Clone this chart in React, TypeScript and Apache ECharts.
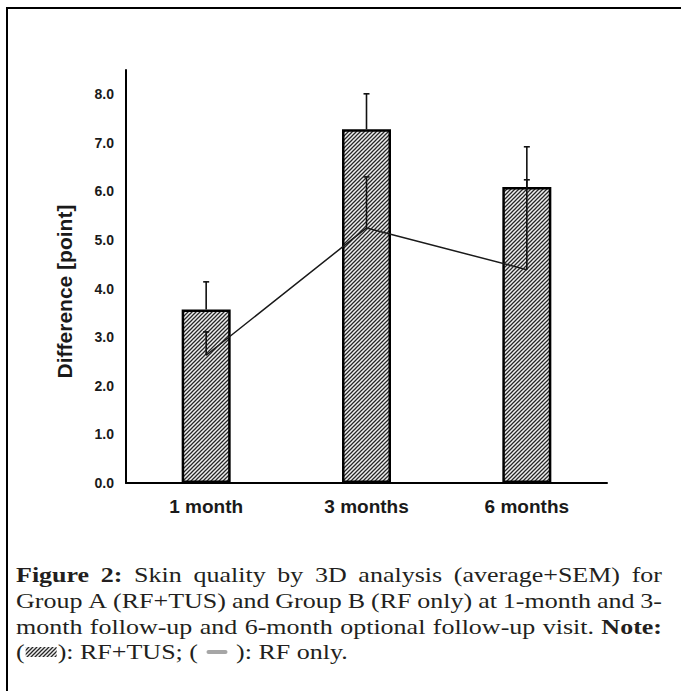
import React, { useEffect, useRef } from 'react';
import * as echarts from 'echarts';

// ---------- data ----------
const categories = ['1 month', '3 months', '6 months'];
const rfTusMean = [3.57, 7.28, 6.09];
const rfTusSem = [0.57, 0.73, 0.83];
const rfOnlyMean = [2.63, 5.25, 4.39];
const rfOnlySem = [0.48, 1.05, 1.85];
const yAxisName = 'Difference [point]';

type Word = { t: string; b?: boolean };
const captionLine1: Word[] = [
  { t: 'Figure', b: true }, { t: '2:', b: true }, { t: 'Skin' }, { t: 'quality' }, { t: 'by' },
  { t: '3D' }, { t: 'analysis' }, { t: '(average+SEM)' }, { t: 'for' },
];
const captionLine2: Word[] = [
  { t: 'Group' }, { t: 'A' }, { t: '(RF+TUS)' }, { t: 'and' }, { t: 'Group' }, { t: 'B' },
  { t: '(RF' }, { t: 'only)' }, { t: 'at' }, { t: '1-month' }, { t: 'and' }, { t: '3-' },
];
const captionLine3: Word[] = [
  { t: 'month' }, { t: 'follow-up' }, { t: 'and' }, { t: '6-month' }, { t: 'optional' },
  { t: 'follow-up' }, { t: 'visit.' }, { t: 'Note:', b: true },
];
const legendTexts = ['(', '): RF+TUS; ( ', ' ): RF only.'];

// ---------- helpers ----------
function makeHatch(): string {
  const s = 4;
  const c = document.createElement('canvas');
  c.width = s;
  c.height = s;
  const ctx = c.getContext('2d')!;
  ctx.fillStyle = '#efefef';
  ctx.fillRect(0, 0, s, s);
  ctx.strokeStyle = '#262626';
  ctx.lineWidth = 1.25;
  ctx.beginPath();
  ctx.moveTo(-1, s + 1);
  ctx.lineTo(s + 1, -1);
  ctx.moveTo(-1, 1);
  ctx.lineTo(1, -1);
  ctx.moveTo(s - 1, s + 1);
  ctx.lineTo(s + 1, s - 1);
  ctx.stroke();
  return c.toDataURL();
}

const CAP_FONT_SIZE = 20;
const CAP_SCALE_X = 1.3;
const CAP_FAMILY = '"Liberation Serif", "Times New Roman", serif';
const CAP_COLOR = '#231f20';

export default function App() {
  const ref = useRef<HTMLDivElement>(null);

  useEffect(() => {
    if (!ref.current) return;
    const chart = echarts.init(ref.current, undefined, { renderer: 'svg' });

    const hatchUrl = makeHatch();
    const hatch: any = { image: hatchUrl, repeat: 'repeat', imageWidth: 4, imageHeight: 4 };

    const mctx = document.createElement('canvas').getContext('2d')!;
    const fontOf = (b?: boolean) => `${b ? 'bold ' : ''}${CAP_FONT_SIZE}px ${CAP_FAMILY}`;
    const measure = (t: string, b?: boolean) => {
      mctx.font = fontOf(b);
      return mctx.measureText(t).width * CAP_SCALE_X;
    };

    const left = 16;
    const right = 662;
    const baselines = [582, 608, 634, 659];
    const centralOffset = 0.3375 * CAP_FONT_SIZE;

    const textEl = (t: string, x: number, baseline: number, b?: boolean) => ({
      type: 'text',
      x,
      y: baseline - centralOffset,
      scaleX: CAP_SCALE_X,
      silent: true,
      style: {
        text: t,
        x: 0,
        y: 0,
        font: fontOf(b),
        fill: CAP_COLOR,
        verticalAlign: 'middle',
        align: 'left',
      },
    });

    const captionEls: any[] = [];
    [captionLine1, captionLine2, captionLine3].forEach((line, li) => {
      const widths = line.map((w) => measure(w.t, w.b));
      const total = widths.reduce((a, b) => a + b, 0);
      const gap = (right - left - total) / (line.length - 1);
      let x = left;
      line.forEach((w, i) => {
        captionEls.push(textEl(w.t, x, baselines[li], w.b));
        x += widths[i] + gap;
      });
    });
    // legend line
    {
      const bl = baselines[3];
      let x = left;
      captionEls.push(textEl(legendTexts[0], x, bl));
      x += measure(legendTexts[0]) + 1;
      captionEls.push({
        type: 'rect',
        silent: true,
        shape: { x, y: bl - 12, width: 31, height: 10 },
        style: { fill: hatch },
      });
      x += 32;
      captionEls.push(textEl(legendTexts[1], x, bl));
      x += measure(legendTexts[1]) + 2;
      captionEls.push({
        type: 'rect',
        silent: true,
        shape: { x, y: bl - 9, width: 21, height: 4, r: 2 },
        style: { fill: '#a6a6a6' },
      });
      x += 23;
      captionEls.push(textEl(legendTexts[2], x, bl));
    }

    const errorRender = (capHalf: number, width: number) => (params: any, api: any) => {
      const i = api.value(0);
      const m = api.value(1);
      const u = api.value(2);
      const p0 = api.coord([i, m]);
      const p1 = api.coord([i, u]);
      const st = { stroke: '#111', lineWidth: width };
      return {
        type: 'group',
        children: [
          { type: 'line', shape: { x1: p0[0], y1: p0[1], x2: p1[0], y2: p1[1] }, style: st },
          { type: 'line', shape: { x1: p1[0] - capHalf, y1: p1[1], x2: p1[0] + capHalf, y2: p1[1] }, style: st },
        ],
      };
    };

    const option: any = {
      animation: false,
      backgroundColor: '#fff',
      grid: { left: 126, right: 74, top: 70, bottom: 208, containLabel: false, outerBoundsMode: 'none' },
      xAxis: {
        type: 'category',
        data: categories,
        axisTick: { show: false },
        axisLine: { lineStyle: { color: '#000', width: 2 } },
        axisLabel: {
          color: '#1a1a1a',
          fontFamily: '"Liberation Sans", Arial, sans-serif',
          fontWeight: 'bold',
          fontSize: 19,
          margin: 14,
        },
      },
      yAxis: {
        type: 'value',
        min: 0,
        max: 8.5,
        interval: 1,
        name: yAxisName,
        nameLocation: 'middle',
        nameGap: 51,
        nameRotate: 90,
        nameTextStyle: {
          color: '#1a1a1a',
          fontFamily: '"Liberation Sans", Arial, sans-serif',
          fontWeight: 'bold',
          fontSize: 21,
          padding: [0, 30, 0, 0],
        },
        splitLine: { show: false },
        axisTick: { show: false },
        axisLine: { show: true, lineStyle: { color: '#000', width: 2 } },
        axisLabel: {
          color: '#1a1a1a',
          fontFamily: '"Liberation Sans", Arial, sans-serif',
          fontWeight: 'bold',
          fontSize: 14,
          margin: 12,
          formatter: (v: number) => (Math.abs(v - Math.round(v)) < 1e-9 ? v.toFixed(1) : ''),
        },
      },
      series: [
        {
          name: 'RF+TUS',
          type: 'bar',
          data: rfTusMean,
          barWidth: 49,
          z: 2,
          itemStyle: { color: hatch, borderColor: '#000', borderWidth: 2.5 },
        },
        {
          name: 'RF only',
          type: 'line',
          data: rfOnlyMean,
          symbol: 'none',
          z: 3,
          lineStyle: { color: '#1a1a1a', width: 1.5 },
        },
        {
          name: 'RF+TUS SEM',
          type: 'custom',
          z: 4,
          renderItem: errorRender(3, 1.6),
          encode: { x: 0, y: [1, 2] },
          data: categories.map((_, i) => [i, rfTusMean[i], rfTusMean[i] + rfTusSem[i]]),
        },
        {
          name: 'RF only SEM',
          type: 'custom',
          z: 4,
          renderItem: errorRender(3, 1.6),
          encode: { x: 0, y: [1, 2] },
          data: categories.map((_, i) => [i, rfOnlyMean[i], rfOnlyMean[i] + rfOnlySem[i]]),
        },
      ],
      graphic: [
        {
          type: 'polyline',
          silent: true,
          shape: { points: [[7, 760], [7, 8], [760, 8]] },
          style: { fill: 'none', stroke: '#000', lineWidth: 2 },
        },
        ...captionEls,
      ],
    };

    chart.setOption(option);
    return () => chart.dispose();
  }, []);

  return (
    <div
      ref={ref}
      style={{ position: 'fixed', left: 0, top: 0, width: 681, height: 691, background: '#fff' }}
    />
  );
}
